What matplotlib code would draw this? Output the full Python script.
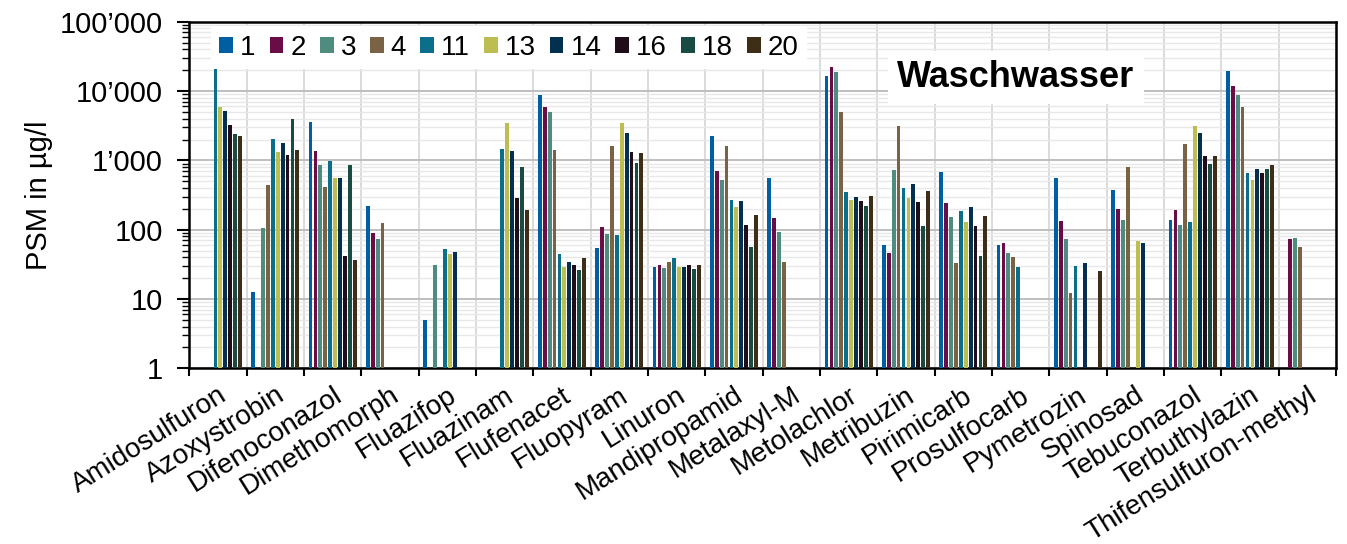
import numpy as np
import matplotlib
matplotlib.use("Agg")
import matplotlib.pyplot as plt
from matplotlib.ticker import FixedLocator, FuncFormatter, LogLocator, NullFormatter

plt.rcParams["font.family"] = ["Liberation Sans", "DejaVu Sans"]

nan = np.nan

wirkstoffe = ["Amidosulfuron", "Azoxystrobin", "Difenoconazol", "Dimethomorph",
              "Fluazifop", "Fluazinam", "Flufenacet", "Fluopyram", "Linuron",
              "Mandipropamid", "Metalaxyl-M", "Metolachlor", "Metribuzin",
              "Pirimicarb", "Prosulfocarb", "Pymetrozin", "Spinosad",
              "Tebuconazol", "Terbuthylazin", "Thifensulfuron-methyl"]

proben = ["1", "2", "3", "4", "11", "13", "14", "16", "18", "20"]

# Konzentrationen in µg/l je Probe (nan = nicht nachgewiesen)
p1 = [nan, 12.6, 3530, 217, 4.9, nan, 8660, 55, 28.6, 2240,
      550, 16450, 60, 680, 60, 560, 373, 138, 19400, nan]
p2 = [nan, nan, 1360, 89.5, nan, nan, 5880, 108, 30.6, 694,
      147, 21950, 45.6, 242, 64, 132, 196, 194, 11700, 72.6]
p3 = [nan, 107, 857, 74, 30.6, nan, 4920, 86.6, 28.3, 520,
      91.5, 19000, 726, 154, 45.6, 72.6, 138, 116, 8750, 75]
p4 = [nan, 445, 408, 126, nan, nan, 1410, 1630, 33.8, 1610,
      34.2, 4980, 3130, 33, 39.9, 12.2, 811, 1720, 5880, 55.6]
p11 = [22400, 2010, 977, nan, 52.6, 1440, 44.1, 82.8, 39.4, 268,
       nan, 349, 399, 184, 28.6, 30.3, nan, 130, 657, nan]
p13 = [5880, 1300, 550, nan, 45.1, 3450, 29.3, 3450, 28.6, 212,
       nan, 265, 283, 129, nan, nan, 68.7, 3160, 520, nan]
p14 = [5090, 1760, 556, nan, 47.6, 1380, 34.2, 2480, 28.6, 256,
       nan, 296, 461, 210, nan, 33, 64.2, 2450, 742, nan]
p16 = [3200, 1180, 41.7, nan, nan, 283, 31.3, 1320, 31.3, 117,
       nan, 259, 251, 112, nan, nan, nan, 1155, 657, nan]
p18 = [2370, 3950, 857, nan, nan, 811, 26.5, 925, 27.4, 55.6,
       nan, 217, 112, 42.2, nan, nan, nan, 895, 750, nan]
p20 = [2240, 1410, 36.9, nan, nan, 192, 38.6, 1290, 31.3, 161,
       nan, 306, 357, 156, nan, 25.3, nan, 1155, 857, nan]

werte = [p1, p2, p3, p4, p11, p13, p14, p16, p18, p20]
farben = ["#005fa3", "#6a0d47", "#4f8c80", "#7a6345", "#0b6e8a",
          "#bcbe52", "#04304f", "#200d1a", "#184b41", "#3e2e17"]

fig = plt.figure(figsize=(13.47, 5.44), dpi=100)
ax = fig.add_axes([0.1405, 0.323, 0.8513, 0.637])

n = len(wirkstoffe)
x = np.arange(n) + 0.5
slot = 0.0855
breite = 0.066
for k, (name, vals, c) in enumerate(zip(proben, werte, farben)):
    off = (k - 4.5) * slot
    ax.bar(x + off, vals, width=breite, color=c, label=name, zorder=3)

ax.set_yscale("log")
ax.set_ylim(1, 100000)
ax.set_xlim(0, n)

ax.yaxis.set_major_locator(LogLocator(base=10, numticks=10))
ax.yaxis.set_minor_locator(LogLocator(base=10, subs=np.arange(2, 10), numticks=10))
ax.yaxis.set_minor_formatter(NullFormatter())
ax.yaxis.set_major_formatter(FuncFormatter(lambda v, p: f"{int(round(v)):,}".replace(",", "\u2019")))

# Kategoriegrenzen als Striche, Namen mittig darunter
ax.xaxis.set_major_locator(FixedLocator(np.arange(n + 1)))
ax.xaxis.set_major_formatter(NullFormatter())
ax.xaxis.set_minor_locator(FixedLocator(x))
ax.set_xticklabels(wirkstoffe, minor=True, rotation=32, ha="right",
                   rotation_mode="anchor", fontsize=20)
ax.tick_params(axis="x", which="minor", length=0, pad=10)
ax.tick_params(axis="x", which="major", length=6, width=1.5, direction="out")
ax.tick_params(axis="y", which="major", length=9, width=1.5, labelsize=21, pad=10)
ax.tick_params(axis="y", which="minor", length=5, width=1.0)

ax.grid(True, axis="y", which="major", color="#bfbfbf", lw=1.4, zorder=0)
ax.grid(True, axis="y", which="minor", color="#e8e8e8", lw=1.0, zorder=0)
ax.grid(True, axis="x", which="major", color="#dadada", lw=1.4, zorder=0)
ax.set_axisbelow(True)

for s in ax.spines.values():
    s.set_linewidth(1.8)
    s.set_color("black")

ax.set_ylabel("PSM in µg/l", fontsize=21)
ax.yaxis.set_label_coords(-0.119, 0.5)

leg = ax.legend(loc="center left", bbox_to_anchor=(0.019, 0.925), ncol=10,
                fontsize=20, frameon=True, framealpha=1, edgecolor="white",
                handlelength=0.5, handleheight=0.5, handletextpad=0.25,
                columnspacing=0.5, borderpad=0.3, borderaxespad=0,
                fancybox=False)
leg.get_frame().set_linewidth(0)

ax.text(0.721, 0.8125, "Waschwasser", transform=ax.transAxes, fontsize=26,
        fontweight="bold", ha="center", va="baseline", zorder=5,
        bbox=dict(boxstyle="square,pad=0.25", fc="white", ec="none"))

fig.savefig("out.png", dpi=100)
